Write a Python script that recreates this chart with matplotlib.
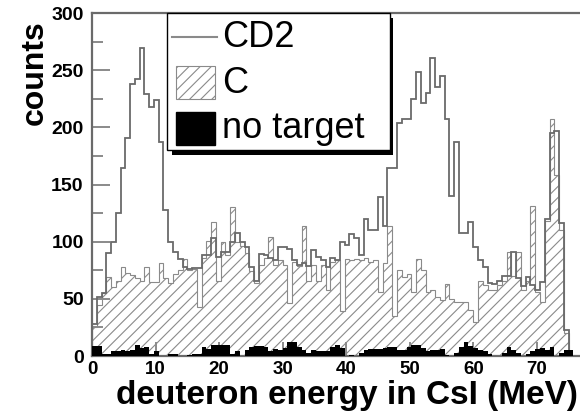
import numpy as np
import matplotlib
matplotlib.use("Agg")
import matplotlib.pyplot as plt
from matplotlib.patches import Rectangle
from matplotlib.lines import Line2D

plt.rcParams['font.family'] = ['Liberation Sans', 'DejaVu Sans']
plt.rcParams['hatch.color'] = '#8a8a8a'
plt.rcParams['hatch.linewidth'] = 0.8

# ---- data (counts per 0.75 MeV bin, starting at 0 MeV) ----
bin_width = 0.75
cd2 = [28, 52, 55, 90, 100, 125, 164, 191, 238, 242,
       269, 229, 218, 224, 187, 128, 100, 91, 85, 78,
       76, 77, 77, 88, 88, 103, 87, 91, 91, 100,
       108, 100, 95, 78, 66, 89, 88, 86, 84, 95,
       95, 94, 84, 80, 81, 79, 93, 87, 84, 78,
       86, 84, 100, 97, 107, 103, 88, 120, 110, 110,
       139, 114, 164, 164, 204, 207, 207, 225, 248, 221,
       230, 261, 235, 245, 207, 140, 187, 108, 108, 117,
       95, 84, 78, 64, 63, 66, 70, 70, 91, 68,
       61, 69, 62, 58, 65, 120, 195, 197, 116, 23, 0]
carbon = [25, 45, 55, 69, 60, 66, 78, 73, 71, 68,
          66, 78, 65, 65, 81, 68, 64, 72, 75, 85,
          75, 76, 43, 86, 101, 117, 66, 100, 88, 130,
          100, 96, 90, 74, 64, 80, 86, 104, 80, 84,
          80, 46, 82, 79, 114, 66, 80, 66, 80, 58,
          82, 84, 39, 85, 84, 85, 84, 86, 82, 84,
          56, 81, 114, 35, 75, 69, 72, 56, 85, 75,
          56, 58, 52, 49, 63, 50, 47, 47, 47, 40,
          30, 66, 62, 58, 58, 62, 66, 91, 70, 91,
          58, 66, 131, 56, 47, 118, 207, 158, 110, 20, 0]
no_target = [9, 9, 2, 2, 4, 4, 5, 4, 5, 10,
             7, 8, 2, 4, 0, 0, 2, 2, 0, 0,
             1, 2, 2, 8, 6, 10, 10, 10, 10, 2,
             4, 0, 5, 8, 9, 9, 8, 4, 6, 5,
             7, 12, 12, 8, 5, 3, 5, 4, 4, 4,
             8, 10, 7, 0, 1, 0, 3, 5, 6, 6,
             6, 7, 8, 8, 5, 5, 8, 10, 10, 7,
             4, 5, 5, 6, 1, 0, 3, 8, 12, 9,
             7, 5, 4, 2, 0, 0, 3, 8, 5, 3,
             0, 2, 4, 6, 7, 5, 8, 0, 3, 5, 5]
labels = ["CD2", "C", "no target"]
x_ticks = [0, 10, 20, 30, 40, 50, 60, 70]
y_ticks = [0, 50, 100, 150, 200, 250, 300]

edges = np.arange(len(cd2) + 1) * bin_width

W, H = 580, 415
fig = plt.figure(figsize=(W / 100, H / 100), dpi=100)
ax = fig.add_axes([92 / W, (H - 356) / H, (580 - 92) / W, (356 - 13) / H])

ax.stairs(carbon, edges, fill=True, facecolor='none', hatch='///',
          edgecolor='#8a8a8a', linewidth=0.8, zorder=2)
ax.stairs(cd2, edges, color='#6a6a6a', linewidth=1.3, zorder=3)
ax.stairs(no_target, edges, fill=True, color='black', zorder=4)

ax.set_xlim(0, 76.8)
ax.set_ylim(0, 300)
ax.set_xticks(x_ticks)
ax.set_yticks(y_ticks)
ax.set_yticks([25, 75, 125, 175, 225, 275], minor=True)
ax.tick_params(axis='both', which='major', direction='in', labelsize=14,
               color='#777777', width=1.2)
ax.tick_params(axis='y', which='major', length=13, pad=6)
ax.tick_params(axis='y', which='minor', direction='in', length=8,
               color='#777777', width=1.2)
ax.tick_params(axis='x', which='major', length=10, pad=3.5, labelsize=13.5)
for lab in ax.get_xticklabels() + ax.get_yticklabels():
    lab.set_fontweight('bold')
ax.spines['right'].set_visible(False)
for s in ['left', 'top', 'bottom']:
    ax.spines[s].set_color('#6a6a6a')
    ax.spines[s].set_linewidth(1.6)

# y and x labels
fig.text(35 / W, 1 - 73 / H, "counts", rotation=90, ha='center', va='center',
         fontsize=23, fontweight='bold')
fig.text(578 / W, 1 - 404 / H, "deuteron energy in CsI (MeV)", ha='right',
         va='baseline', fontsize=24, fontweight='bold')

# legend (axes-fraction coordinates)
def fx(px):
    return (px - 92) / 488.0

def fy(py):
    return (356 - py) / 343.0

t = ax.transAxes
ax.add_patch(Rectangle((fx(172), fy(155)), fx(393) - fx(172), fy(18) - fy(155),
                       transform=t, facecolor='black', edgecolor='none',
                       zorder=9, clip_on=False))
ax.add_patch(Rectangle((fx(167), fy(150)), fx(390) - fx(167), fy(13) - fy(150),
                       transform=t, facecolor='white', edgecolor='black',
                       linewidth=1.0, zorder=10, clip_on=False))
ax.add_line(Line2D([fx(172), fx(217)], [fy(37), fy(37)], transform=t,
                   color='#8a8a8a', linewidth=1.5, zorder=11))
ax.add_patch(Rectangle((fx(176), fy(99)), fx(215) - fx(176), fy(66) - fy(99),
                       transform=t, facecolor='white', hatch='///',
                       edgecolor='#8a8a8a', linewidth=0.8, zorder=11))
ax.add_patch(Rectangle((fx(176), fy(145)), fx(215) - fx(176), fy(112) - fy(145),
                       transform=t, facecolor='black', edgecolor='black',
                       zorder=11))
for lab, py in zip(labels, [37, 83, 128]):
    ax.text(fx(222), fy(py), lab, transform=t, ha='left', va='center',
            fontsize=26, zorder=12)

fig.savefig("out.png", dpi=100)
